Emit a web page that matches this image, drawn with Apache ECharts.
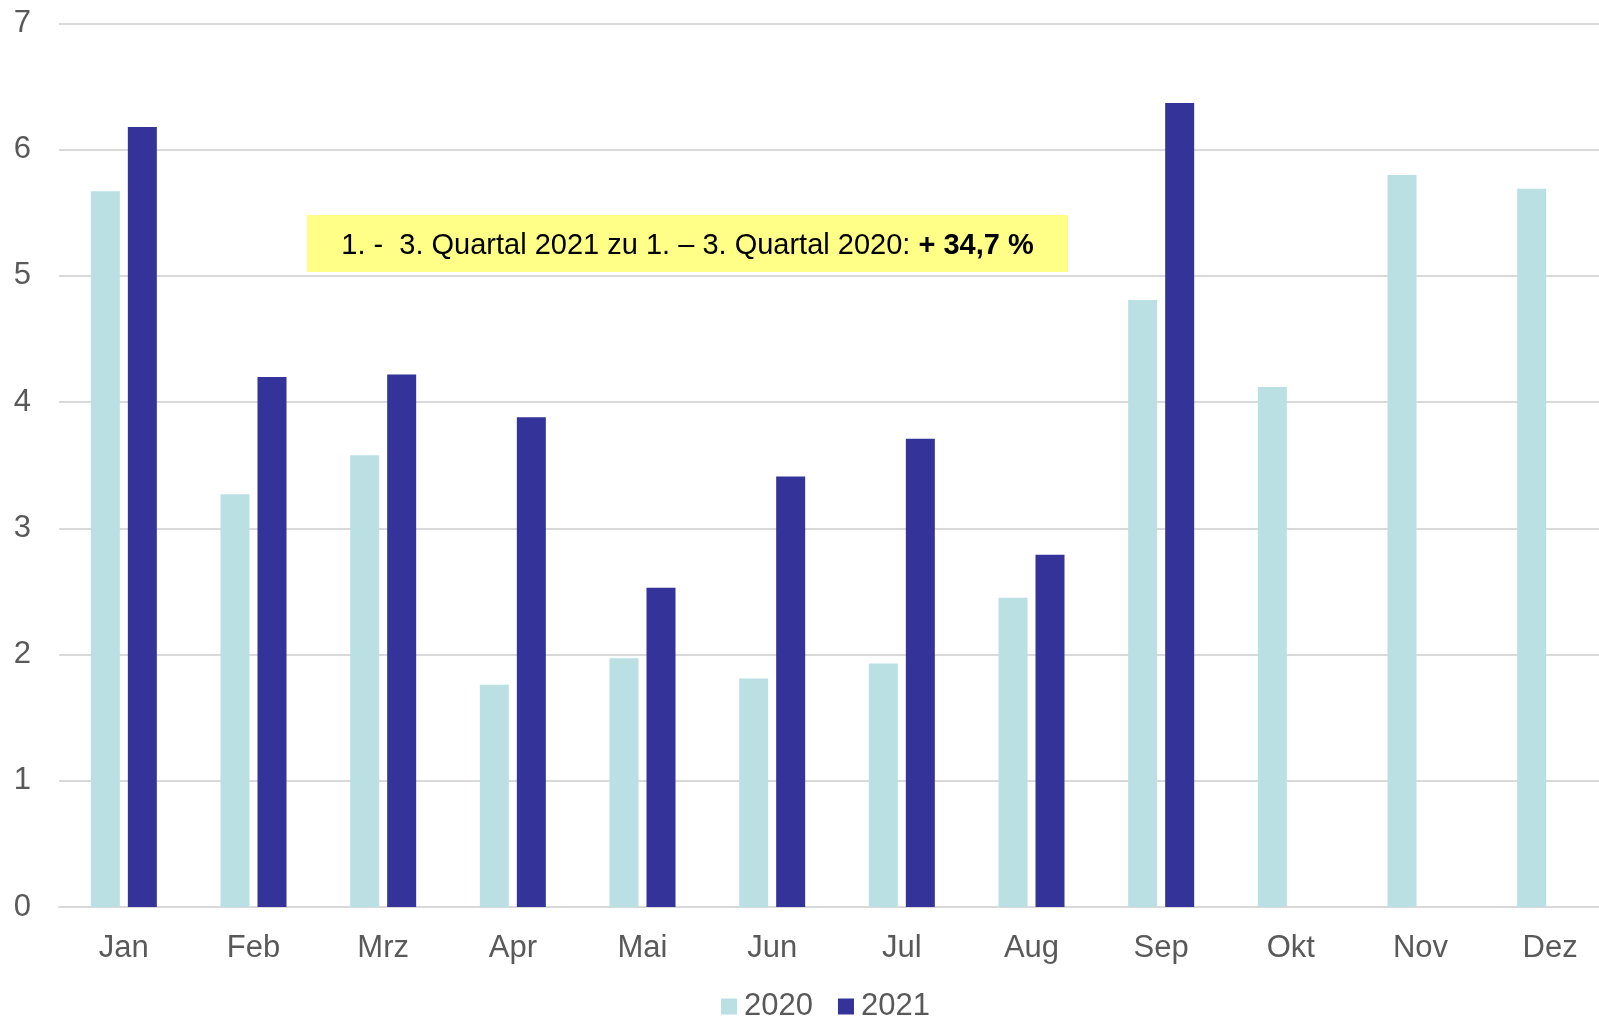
<!DOCTYPE html>
<html>
<head>
<meta charset="utf-8">
<script src="https://cdn.jsdelivr.net/npm/echarts@6/dist/echarts.min.js"></script>
<style>
html,body{margin:0;padding:0;background:#fff;overflow:hidden;}
#chart{width:1620px;height:1019px;}
</style>
</head>
<body>
<div id="chart"></div>
<script>
const categories = ['Jan','Feb','Mrz','Apr','Mai','Jun','Jul','Aug','Sep','Okt','Nov','Dez'];
const values2020 = [5.67, 3.27, 3.58, 1.76, 1.97, 1.81, 1.93, 2.45, 4.81, 4.12, 5.80, 5.69];
const values2021 = [6.18, 4.20, 4.22, 3.88, 2.53, 3.41, 3.71, 2.79, 6.37, null, null, null];
const yTicks = [0, 1, 2, 3, 4, 5, 6, 7];
const annotationMain = '1. -  3. Quartal 2021 zu 1. – 3. Quartal 2020: ';
const annotationBold = '+ 34,7 %';

const chart = echarts.init(document.getElementById('chart'));
const FONT = '"Liberation Sans", Arial, sans-serif';
chart.setOption({
  animation: false,
  backgroundColor: '#ffffff',
  textStyle: { fontFamily: FONT },
  grid: { left: 59, right: 5, top: 23.5, bottom: 112, containLabel: false },
  legend: {
    data: ['2020', '2021'],
    left: 721, top: 991, padding: 0,
    itemWidth: 16, itemHeight: 16, itemGap: 25,
    icon: 'rect',
    textStyle: { fontSize: 31, color: '#595959', fontFamily: FONT, padding: [0, 0, 0, 2] }
  },
  xAxis: {
    type: 'category',
    data: categories,
    axisLine: { show: true, lineStyle: { color: '#d9d9d9', width: 2 } },
    axisTick: { show: false },
    axisLabel: { fontSize: 31, color: '#595959', margin: 26, fontFamily: FONT }
  },
  yAxis: {
    type: 'value',
    min: yTicks[0], max: yTicks[yTicks.length - 1], interval: 1,
    axisLine: { show: false },
    axisTick: { show: false },
    axisLabel: { fontSize: 31, color: '#595959', margin: 28, fontFamily: FONT },
    splitLine: { lineStyle: { color: '#d9d9d9', width: 2 } }
  },
  series: [
    {
      name: '2020', type: 'bar', data: values2020,
      barWidth: 29, barGap: '27.6%',
      itemStyle: { color: '#BAE0E3' }
    },
    {
      name: '2021', type: 'bar', data: values2021,
      barWidth: 29, barGap: '27.6%',
      itemStyle: { color: '#333399' }
    }
  ],
  graphic: [
    {
      type: 'rect', left: 307, top: 215, z: 100,
      shape: { width: 761, height: 57 },
      style: { fill: '#FFFF88' }
    },
    {
      type: 'text', x: 687.5, y: 246, z: 101,
      style: {
        text: '{a|' + annotationMain + '}{b|' + annotationBold + '}',
        align: 'center', verticalAlign: 'middle',
        rich: {
          a: { fontSize: 29, fontFamily: FONT, fill: '#000000', color: '#000000' },
          b: { fontSize: 29, fontFamily: FONT, fontWeight: 'bold', fill: '#000000', color: '#000000' }
        }
      }
    }
  ]
});
</script>
</body>
</html>
